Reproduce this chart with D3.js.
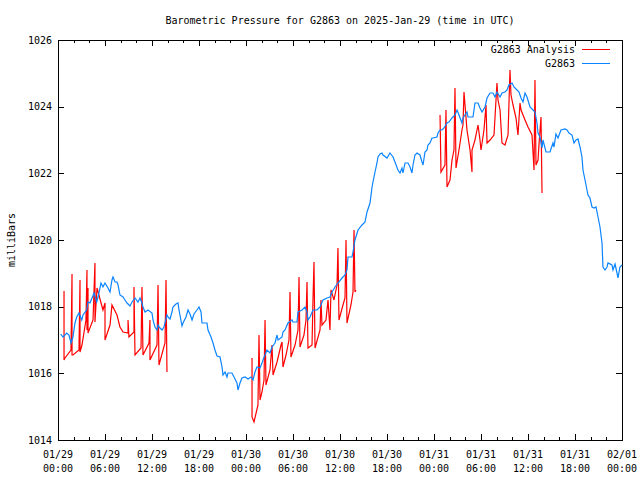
<!DOCTYPE html>
<html><head><meta charset="utf-8">
<script src="https://cdn.jsdelivr.net/npm/d3@7"></script>
<style>
body{margin:0;background:#fff}
text{font-family:"DejaVu Sans Mono","Liberation Mono",monospace;font-size:10px;fill:#000}
</style>
</head><body><svg id="c" width="640" height="480"></svg>
<script>
const title = "Barometric Pressure for G2863 on 2025-Jan-29 (time in UTC)";
const yLabel = "milliBars";
const seriesNames = ["G2863 Analysis", "G2863"];
const yTicks = [1014, 1016, 1018, 1020, 1022, 1024, 1026];
const startTime = Date.UTC(2025, 0, 29, 0, 0);
const endTime = Date.UTC(2025, 1, 1, 0, 0);

// G2863 observations: hours since 01/29 00:00 UTC, pressure in mb
const blueHours = [0.34,0.64,1.11,1.40,1.66,1.91,2.17,2.39,2.68,3.03,3.19,3.66,3.83,4.09,4.34,4.60,4.94,5.11,5.49,5.74,6.00,6.38,6.64,6.89,7.02,7.28,7.53,7.66,7.91,8.30,8.55,8.81,9.19,9.45,9.83,10.21,10.47,10.72,10.85,11.11,11.49,12.00,12.13,12.38,12.64,12.77,13.02,13.28,13.53,13.91,14.04,14.30,14.55,14.68,15.06,15.32,15.45,15.83,15.96,16.34,16.60,16.85,17.11,17.36,17.74,18.00,18.26,18.38,19.02,19.15,19.53,19.79,20.04,20.30,20.68,20.94,21.06,21.32,21.57,21.70,22.21,22.47,22.85,22.98,23.23,23.49,23.87,24.26,24.64,24.89,25.15,25.40,25.79,26.04,26.17,26.68,27.06,27.32,27.70,27.96,28.09,28.60,28.72,28.98,29.36,29.87,30.00,30.51,30.64,31.15,31.53,31.79,31.91,32.17,32.55,33.06,33.45,33.83,34.34,34.72,34.98,35.36,35.74,36.26,36.64,36.89,37.02,37.53,37.66,37.91,38.30,38.81,39.19,39.45,39.83,40.09,40.21,40.47,40.72,40.85,41.11,41.36,41.49,42.00,42.38,42.77,43.02,43.40,43.66,43.91,44.04,44.30,44.68,44.94,45.19,45.32,45.57,45.83,46.21,46.47,46.60,46.85,47.11,47.23,47.49,47.74,47.87,48.38,48.51,48.77,49.02,49.28,49.66,49.91,50.30,50.68,50.94,51.19,51.57,51.70,52.21,52.34,52.98,53.23,53.62,53.87,54.13,54.51,54.77,55.15,55.53,55.79,56.04,56.43,56.68,57.06,57.32,57.57,57.96,58.21,58.60,58.85,59.11,59.36,59.62,59.87,60.26,60.64,60.89,61.15,61.28,61.53,61.79,61.91,62.30,62.81,63.19,63.32,63.57,63.83,64.21,64.72,64.98,65.23,65.62,65.87,66.13,66.38,66.64,66.89,67.02,67.28,67.53,67.66,67.91,68.17,68.43,68.68,68.94,69.19,69.45,69.57,69.83,70.09,70.21,70.72,70.85,71.11,71.36,71.49,71.74,72.00];
const blueValues = [1017.18,1017.09,1017.21,1017.15,1016.91,1017.09,1017.51,1017.69,1017.81,1017.60,1017.75,1017.90,1018.14,1018.11,1018.26,1018.41,1018.14,1018.29,1018.71,1018.59,1018.71,1018.56,1018.44,1018.80,1018.89,1018.74,1018.74,1018.65,1018.35,1018.29,1018.20,1018.11,1018.02,1018.14,1018.26,1018.14,1018.26,1018.11,1017.99,1017.84,1017.90,1017.81,1017.60,1017.39,1017.30,1017.45,1017.36,1017.30,1017.39,1017.75,1017.69,1017.63,1017.84,1017.99,1018.08,1018.11,1017.90,1017.42,1017.51,1017.69,1017.90,1017.78,1017.60,1017.78,1017.90,1017.99,1017.84,1017.51,1017.51,1017.30,1017.09,1016.91,1016.70,1016.52,1016.49,1016.19,1015.95,1016.04,1015.89,1016.01,1016.01,1015.89,1015.71,1015.50,1015.71,1015.86,1015.89,1015.83,1015.89,1015.80,1016.04,1016.19,1016.16,1016.31,1016.40,1016.70,1016.61,1016.79,1016.91,1017.15,1017.00,1017.09,1017.24,1017.30,1017.51,1017.60,1017.54,1017.54,1017.84,1017.90,1017.99,1017.84,1017.60,1017.69,1017.90,1017.90,1017.99,1018.20,1018.26,1018.29,1018.44,1018.59,1018.71,1018.86,1018.95,1019.10,1019.49,1019.49,1019.64,1020.00,1020.30,1020.45,1020.54,1020.84,1021.11,1021.59,1021.74,1022.04,1022.31,1022.49,1022.58,1022.61,1022.55,1022.46,1022.61,1022.49,1022.34,1022.10,1022.01,1022.16,1022.01,1022.31,1022.31,1022.19,1022.01,1022.25,1022.55,1022.61,1022.55,1022.34,1022.25,1022.64,1022.70,1022.85,1022.91,1023.06,1023.06,1023.09,1023.21,1023.30,1023.30,1023.36,1023.51,1023.54,1023.66,1023.75,1023.90,1023.75,1023.51,1023.66,1023.84,1023.69,1023.69,1024.11,1024.11,1023.96,1023.84,1023.99,1024.26,1024.41,1024.41,1024.29,1024.44,1024.29,1024.41,1024.44,1024.50,1024.65,1024.71,1024.59,1024.50,1024.44,1024.26,1024.14,1024.41,1024.29,1023.99,1023.90,1023.84,1023.51,1023.21,1023.09,1022.76,1023.00,1022.64,1022.64,1022.91,1022.79,1023.18,1023.06,1023.30,1023.33,1023.30,1023.21,1023.15,1022.91,1023.00,1023.03,1022.79,1022.49,1022.10,1021.80,1021.50,1021.35,1021.26,1020.99,1020.96,1020.99,1020.69,1020.39,1019.91,1019.19,1019.10,1019.19,1019.31,1019.25,1019.10,1019.28,1019.01,1018.86,1019.19,1019.25];

// G2863 Analysis: hours since 01/29 00:00 UTC, pressure in mb (null = gap between runs)
const redHours = [0.77,0.77,0.89,1.66,1.79,1.79,1.91,2.68,2.81,2.81,3.06,3.57,3.70,3.70,3.83,3.83,4.47,4.72,4.72,4.98,5.74,6.00,6.00,6.64,6.89,7.53,7.91,8.30,8.94,8.94,9.06,9.70,9.70,9.83,10.60,10.72,10.85,11.62,11.74,11.74,12.64,12.77,12.89,13.66,13.79,13.91,
  null,
  24.77,24.77,25.02,25.53,25.66,25.79,26.04,26.30,26.43,26.55,27.06,27.32,27.45,27.96,28.47,28.60,28.72,29.11,29.49,29.62,29.74,30.26,30.64,30.77,30.89,31.40,31.66,31.79,31.91,32.43,32.55,32.68,32.81,33.45,33.57,33.70,34.21,34.47,34.72,34.85,35.23,35.62,35.74,35.87,36.38,36.64,36.77,36.89,37.40,37.66,37.79,37.91,38.04,
  null,
  48.77,48.89,49.40,49.53,49.66,50.04,50.30,50.55,50.68,50.81,51.19,51.57,51.70,51.83,51.96,52.21,52.60,52.85,52.85,53.23,53.62,53.87,54.00,54.38,54.64,54.77,55.15,55.66,56.04,56.17,56.43,56.68,57.06,57.45,57.70,57.83,58.09,58.47,58.72,58.98,59.11,59.62,60.00,60.51,60.77,60.89,61.02,61.28,61.40,61.66,61.79];
const redValues = [1018.47,1016.40,1016.46,1016.70,1018.98,1016.55,1016.55,1016.70,1018.80,1016.64,1016.85,1017.60,1019.10,1017.30,1018.56,1017.21,1017.60,1019.31,1017.54,1018.56,1017.90,1018.11,1017.00,1017.45,1018.05,1017.75,1017.39,1017.24,1017.21,1017.60,1017.09,1017.24,1018.59,1016.55,1016.76,1018.59,1016.55,1016.91,1017.60,1016.40,1016.85,1018.65,1016.25,1016.91,1018.80,1016.04,
  null,
  1016.46,1014.69,1014.54,1015.05,1017.15,1015.20,1015.44,1015.80,1017.60,1015.65,1016.10,1016.85,1015.95,1016.34,1016.85,1016.94,1016.19,1016.55,1017.00,1018.44,1016.49,1016.85,1017.30,1018.89,1016.79,1017.15,1017.60,1018.74,1016.76,1016.85,1018.20,1019.34,1016.76,1017.30,1018.20,1017.45,1017.60,1018.20,1017.30,1018.50,1018.20,1018.65,1019.76,1017.60,1018.05,1018.26,1020.00,1017.51,1018.05,1018.44,1020.30,1018.44,1018.50,
  null,
  1023.75,1022.04,1022.25,1023.90,1021.59,1021.80,1022.40,1022.70,1024.56,1022.16,1022.70,1023.30,1023.45,1024.44,1024.05,1023.30,1022.70,1022.04,1022.70,1023.00,1023.45,1023.00,1022.70,1023.30,1024.05,1022.91,1023.00,1023.15,1024.71,1024.20,1023.90,1022.91,1022.85,1023.15,1025.10,1024.35,1024.05,1023.66,1023.15,1024.11,1023.90,1023.60,1023.39,1023.15,1022.10,1024.80,1022.25,1022.40,1022.85,1023.69,1021.41];

const colors = {analysis: "#ff0000", obs: "#0a84ff"};

const svg = d3.select("#c");
const L = 58, R = 622, T = 40, B = 440;

const x = d3.scaleUtc().domain([new Date(startTime), new Date(endTime)]).range([L, R]);
const y = d3.scaleLinear().domain([1014, 1026]).range([B, T]);
const toDate = h => new Date(startTime + h * 3600e3);

const majorX = d3.utcHour.every(6).range(new Date(startTime), new Date(endTime + 1));
const minorX = d3.utcHour.every(2).range(new Date(startTime), new Date(endTime + 1))
  .filter(d => d.getUTCHours() % 6 !== 0);

// Title
svg.append("text").attr("x", 340).attr("y", 20).attr("dy", "0.35em")
  .attr("text-anchor", "middle").text(title);

// Y label
svg.append("text").attr("transform", "translate(11,240) rotate(-90)")
  .attr("dy", "0.35em").attr("text-anchor", "middle").text(yLabel);

// Axes (ticks inward)
const gL = svg.append("g").attr("transform", `translate(${L},0)`)
  .call(d3.axisLeft(y).tickValues(yTicks).tickFormat(d3.format("d")).tickSize(-6).tickPadding(6));
const gR = svg.append("g").attr("transform", `translate(${R},0)`)
  .call(d3.axisRight(y).tickValues(yTicks).tickFormat("").tickSize(-6));
const gB = svg.append("g").attr("transform", `translate(0,${B})`)
  .call(d3.axisBottom(x).tickValues(majorX).tickFormat("").tickSize(-6));
const gBm = svg.append("g").attr("transform", `translate(0,${B})`)
  .call(d3.axisBottom(x).tickValues(minorX).tickFormat("").tickSize(-3));
const gT = svg.append("g").attr("transform", `translate(0,${T})`)
  .call(d3.axisTop(x).tickValues(majorX).tickFormat("").tickSize(-6));
const gTm = svg.append("g").attr("transform", `translate(0,${T})`)
  .call(d3.axisTop(x).tickValues(minorX).tickFormat("").tickSize(-3));
[gL, gR, gB, gBm, gT, gTm].forEach(g => {
  g.select(".domain").remove();
  g.selectAll("line").attr("stroke", "#000").attr("shape-rendering", "crispEdges");
  g.selectAll("text").attr("font-family", null).attr("font-size", null);
});

// X tick labels (two lines)
const fmtD = d3.utcFormat("%m/%d"), fmtT = d3.utcFormat("%H:%M");
const xl = svg.append("g").selectAll("g").data(majorX).join("g")
  .attr("transform", d => `translate(${x(d)},0)`);
xl.append("text").attr("y", 454).attr("dy", "0.35em").attr("text-anchor", "middle").text(d => fmtD(d));
xl.append("text").attr("y", 468).attr("dy", "0.35em").attr("text-anchor", "middle").text(d => fmtT(d));

// Frame
svg.append("rect").attr("x", L + 0.5).attr("y", T + 0.5).attr("width", R - L).attr("height", B - T)
  .attr("fill", "none").attr("stroke", "#000").attr("stroke-width", 1).attr("shape-rendering", "crispEdges");

// Data
const redData = redHours.map((h, i) => (h === null ? null : {t: toDate(h), v: redValues[i]}));
const blueData = blueHours.map((h, i) => ({t: toDate(h), v: blueValues[i]}));
const line = d3.line().defined(d => d !== null).x(d => x(d.t)).y(d => y(d.v));

svg.append("path").datum(redData).attr("d", line)
  .attr("fill", "none").attr("stroke", colors.analysis).attr("stroke-width", 1.2);
svg.append("path").datum(blueData).attr("d", line)
  .attr("fill", "none").attr("stroke", colors.obs).attr("stroke-width", 1.2);

// Legend
const leg = svg.append("g");
[[seriesNames[0], colors.analysis, 49], [seriesNames[1], colors.obs, 63]].forEach(([name, c, yy]) => {
  leg.append("text").attr("x", 575).attr("y", yy).attr("dy", "0.35em").attr("text-anchor", "end").text(name);
  leg.append("line").attr("x1", 582).attr("x2", 610).attr("y1", yy + 0.5).attr("y2", yy + 0.5)
    .attr("stroke", c).attr("stroke-width", 1).attr("shape-rendering", "crispEdges");
});
</script>
</body></html>
